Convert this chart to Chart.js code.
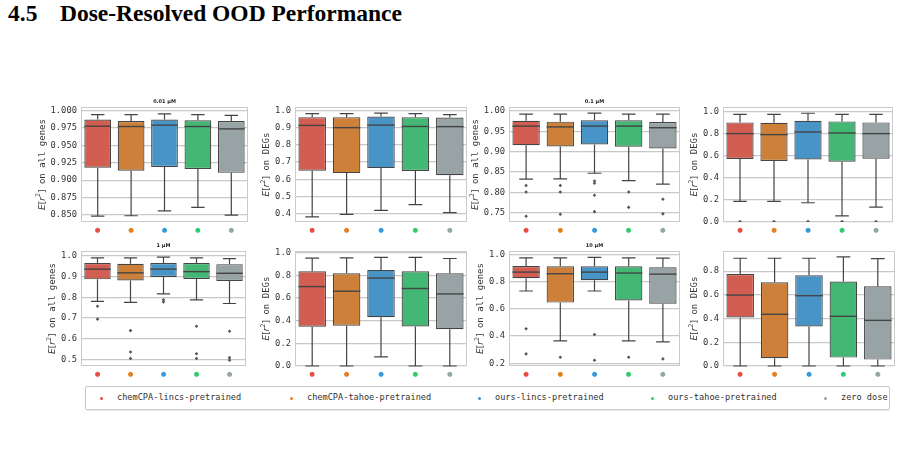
<!DOCTYPE html>
<html>
<head>
<title>Dose-Resolved OOD Performance</title>
<script src="https://cdn.jsdelivr.net/npm/chart.js@4.4.1/dist/chart.umd.min.js"></script>
<style>
  body { margin: 0; background: #fff; }
  #page { position: relative; width: 902px; height: 451px; overflow: hidden; }
  .head { position: absolute; top: 0px; font: bold 23.5px "Liberation Serif", serif; color: #000; white-space: pre; }
  canvas { position: absolute; }
  #legend { position: absolute; left: 85px; top: 386px; width: 803px; height: 22px; border: 1px solid #cbcbcb; border-radius: 2px; box-shadow: 0 1px 1px rgba(0,0,0,0.08); }
  #legend span { position: absolute; top: 5px; font: 8.6px "DejaVu Sans Mono", monospace; color: #333; white-space: pre; }
  #legend i { position: absolute; top: 10px; width: 3px; height: 3px; border-radius: 50%; }
</style>
</head>
<body>
<div id="page">
  <div class="head" style="left: 8px">4.5</div>
  <div class="head" style="left: 60px">Dose-Resolved OOD Performance</div>
  <div id="legend"></div>
</div>
<script>
const models = ['chemCPA-lincs-pretrained', 'chemCPA-tahoe-pretrained', 'ours-lincs-pretrained', 'ours-tahoe-pretrained', 'zero dose'];
const dotColors = ['#e74c3c', '#e67e22', '#3498db', '#2ecc71', '#95a5a6'];
const boxColors = ['#d25d51', '#cd803a', '#4994c6', '#42b874', '#97a3a4'];
const doses = ['0.01 µM', '0.1 µM', '1 µM', '10 µM'];

// each box: [lower whisker, q1, median, q3, upper whisker]
const d001All = [[0.8485, 0.918, 0.9775, 0.987, 0.994], [0.849, 0.9135, 0.977, 0.985, 0.994], [0.856, 0.919, 0.979, 0.987, 0.995], [0.861, 0.916, 0.977, 0.986, 0.994], [0.850, 0.9105, 0.9736, 0.985, 0.993]];
const d001AllOut = [[], [], [], [], []];
const d001Deg = [[0.382, 0.650, 0.913, 0.961, 0.982], [0.396, 0.636, 0.900, 0.961, 0.982], [0.419, 0.665, 0.915, 0.965, 0.984], [0.453, 0.648, 0.907, 0.961, 0.982], [0.407, 0.624, 0.906, 0.959, 0.976]];
const d001DegOut = [[], [], [], [], []];

const d01All = [[0.8325, 0.916, 0.963, 0.976, 0.9925], [0.833, 0.913, 0.961, 0.974, 0.9925], [0.847, 0.918, 0.963, 0.9775, 0.995], [0.829, 0.912, 0.963, 0.9775, 0.9925], [0.820, 0.908, 0.959, 0.973, 0.9925]];
const d01AllOut = [[0.817, 0.801, 0.741], [0.817, 0.801, 0.746], [0.828, 0.8225, 0.793, 0.7525], [0.801, 0.763], [0.783, 0.747]];
const d01Deg = [[0.188, 0.572, 0.803, 0.905, 0.978], [0.188, 0.554, 0.794, 0.902, 0.978], [0.175, 0.569, 0.818, 0.920, 0.988], [0.055, 0.548, 0.809, 0.914, 0.978], [0.135, 0.575, 0.803, 0.905, 0.978]];
const d01DegOut = [[0.004], [0.004], [0.004], [0.004], [0.004]];

const d1All = [[0.780, 0.886, 0.935, 0.964, 0.989], [0.775, 0.881, 0.917, 0.961, 0.989], [0.816, 0.897, 0.935, 0.964, 0.993], [0.787, 0.888, 0.923, 0.964, 0.989], [0.770, 0.878, 0.915, 0.959, 0.985]];
const d1AllOut = [[0.757, 0.695], [0.640, 0.537, 0.506], [0.788, 0.778], [0.661, 0.529, 0.506], [0.637, 0.510, 0.498]];
const d1Deg = [[0.0, 0.346, 0.701, 0.836, 0.952], [0.0, 0.355, 0.660, 0.818, 0.955], [0.08, 0.430, 0.776, 0.848, 0.958], [0.0, 0.349, 0.684, 0.836, 0.958], [0.0, 0.325, 0.636, 0.818, 0.949]];
const d1DegOut = [[], [], [], [], []];

const d10All = [[0.731, 0.825, 0.870, 0.915, 0.975], [0.364, 0.646, 0.858, 0.913, 0.975], [0.731, 0.810, 0.870, 0.913, 0.978], [0.364, 0.661, 0.863, 0.913, 0.975], [0.357, 0.638, 0.855, 0.905, 0.973]];
const d10AllOut = [[0.454, 0.269], [0.244], [0.411, 0.222], [0.244], [0.232]];
const d10Deg = [[0.0, 0.410, 0.598, 0.775, 0.909], [0.0, 0.066, 0.436, 0.707, 0.909], [0.0, 0.333, 0.593, 0.766, 0.909], [0.0, 0.071, 0.419, 0.712, 0.920], [0.0, 0.054, 0.385, 0.672, 0.906]];
const d10DegOut = [[], [], [], [], []];

const ticks001All = [0.850, 0.875, 0.900, 0.925, 0.950, 0.975, 1.000];
const ticks001Deg = [0.4, 0.5, 0.6, 0.7, 0.8, 0.9, 1.0];
const ticks01All = [0.75, 0.80, 0.85, 0.90, 0.95, 1.00];
const ticks01Deg = [0.0, 0.2, 0.4, 0.6, 0.8, 1.0];
const ticks1All = [0.5, 0.6, 0.7, 0.8, 0.9, 1.0];
const ticks1Deg = [0.0, 0.2, 0.4, 0.6, 0.8, 1.0];
const ticks10All = [0.2, 0.4, 0.6, 0.8, 1.0];
const ticks10Deg = [0.0, 0.2, 0.4, 0.6, 0.8];

// plot-area edges
const colL = [81, 295, 509, 723], colR = [248, 467, 682, 895];
const rowT = [107, 251], rowB = [222, 366];

const panels = [
  {stats: d001All, out: d001AllOut, ticks: ticks001All, dec: 3, min: 0.840, max: 1.005, what: 'all genes', title: doses[0], c: 0, r: 0},
  {stats: d001Deg, out: d001DegOut, ticks: ticks001Deg, dec: 1, min: 0.352, max: 1.02, what: 'DEGs', c: 1, r: 0},
  {stats: d01All, out: d01AllOut, ticks: ticks01All, dec: 2, min: 0.727, max: 1.010, what: 'all genes', title: doses[1], c: 2, r: 0},
  {stats: d01Deg, out: d01DegOut, ticks: ticks01Deg, dec: 1, min: 0, max: 1.045, what: 'DEGs', c: 3, r: 0},
  {stats: d1All, out: d1AllOut, ticks: ticks1All, dec: 1, min: 0.470, max: 1.022, what: 'all genes', title: doses[2], c: 0, r: 1},
  {stats: d1Deg, out: d1DegOut, ticks: ticks1Deg, dec: 1, min: 0, max: 1.015, what: 'DEGs', c: 1, r: 1},
  {stats: d10All, out: d10AllOut, ticks: ticks10All, dec: 1, min: 0.180, max: 1.025, what: 'all genes', title: doses[3], c: 2, r: 1},
  {stats: d10Deg, out: d10DegOut, ticks: ticks10Deg, dec: 1, min: 0, max: 0.97, what: 'DEGs', c: 3, r: 1}
];

const LINE = '#444';
const TICKFONT = {family: 'DejaVu Sans Mono', size: 8.8};
const YAXIS_W = 58, XAXIS_H = 16, TOP_PAD = 12;

// whiskers, caps, medians and the spines
const boxPlugin = {
  id: 'boxparts',
  beforeDatasetsDraw(chart) {
    const {ctx, chartArea: a} = chart;
    ctx.save();
    ctx.strokeStyle = '#cbcbcb';
    ctx.lineWidth = 1;
    ctx.strokeRect(a.left + 0.5, a.top + 0.5, a.width - 1, a.height - 1);
    ctx.restore();
  },
  afterDatasetsDraw(chart, args, opts) {
    const {ctx} = chart;
    const y = chart.scales.y;
    const bars = chart.getDatasetMeta(0).data;
    ctx.save();
    ctx.strokeStyle = LINE;
    opts.stats.forEach((s, i) => {
      const b = bars[i];
      const x = b.x, hw = b.width / 2, cw = b.width / 4;
      const [lo, q1, med, q3, hi] = s.map(v => y.getPixelForValue(v));
      ctx.lineWidth = 1.2;
      ctx.beginPath();
      ctx.moveTo(x, q3); ctx.lineTo(x, hi);
      ctx.moveTo(x, q1); ctx.lineTo(x, lo);
      ctx.moveTo(x - cw, hi); ctx.lineTo(x + cw, hi);
      ctx.moveTo(x - cw, lo); ctx.lineTo(x + cw, lo);
      ctx.stroke();
      ctx.lineWidth = 1.4;
      ctx.beginPath();
      ctx.moveTo(x - hw, med); ctx.lineTo(x + hw, med);
      ctx.stroke();
    });
    ctx.restore();
  }
};

// dose title and the E[r^2] axis label
const textPlugin = {
  id: 'texts',
  afterDraw(chart, args, opts) {
    const {ctx, chartArea: a} = chart;
    ctx.save();
    if (opts.title) {
      ctx.font = 'bold 5px "DejaVu Sans"';
      ctx.fillStyle = '#222';
      ctx.textAlign = 'center';
      ctx.textBaseline = 'alphabetic';
      ctx.fillText(opts.title, (a.left + a.right) / 2, a.top - 4);
    }
    ctx.font = TICKFONT.size + 'px "DejaVu Sans Mono"';
    const tickW = Math.max(...chart.scales.y.ticks.map(t => ctx.measureText(t.label).width));
    const cx = a.left - 4 - tickW - 8;
    const fs = 9;
    const parts = [
      ['italic ' + fs + 'px "DejaVu Sans"', 'E', 0],
      [fs + 'px "DejaVu Sans"', '[', 0],
      ['italic ' + fs + 'px "DejaVu Sans"', 'r', 0],
      ['6.3px "DejaVu Sans"', '2', -3.8],
      [fs + 'px "DejaVu Sans"', ']', 0],
      [fs + 'px "DejaVu Sans Mono"', ' on ' + opts.what, 0]
    ];
    let total = 0;
    parts.forEach(p => { ctx.font = p[0]; p.push(ctx.measureText(p[1]).width); total += p[3]; });
    ctx.translate(cx, (a.top + a.bottom) / 2);
    ctx.rotate(-Math.PI / 2);
    ctx.fillStyle = '#333';
    ctx.textAlign = 'left';
    ctx.textBaseline = 'middle';
    let px = -total / 2;
    parts.forEach(p => { ctx.font = p[0]; ctx.fillText(p[1], px, p[2]); px += p[3]; });
    ctx.restore();
  }
};

const page = document.getElementById('page');

panels.forEach(p => {
  const L = colL[p.c], R = colR[p.c], T = rowT[p.r], B = rowB[p.r];
  const cv = document.createElement('canvas');
  cv.width = R - L + YAXIS_W + 2;
  cv.height = B - T + TOP_PAD + XAXIS_H;
  cv.style.left = (L - YAXIS_W) + 'px';
  cv.style.top = (T - TOP_PAD) + 'px';
  page.appendChild(cv);

  const outliers = p.out.flatMap((arr, i) => arr.map(v => ({x: models[i], y: v})));

  new Chart(cv.getContext('2d'), {
    type: 'bar',
    data: {
      labels: models,
      datasets: [{
        type: 'bar',
        data: p.stats.map(s => [s[1], s[3]]),
        backgroundColor: boxColors,
        borderColor: LINE,
        borderWidth: 1.2,
        borderSkipped: false,
        barPercentage: 0.8,
        categoryPercentage: 1.0
      }, {
        type: 'line',
        data: outliers,
        showLine: false,
        pointStyle: 'rectRot',
        pointRadius: 1.8,
        pointBackgroundColor: '#555',
        pointBorderWidth: 0
      }]
    },
    options: {
      responsive: false,
      animation: false,
      events: [],
      layout: {padding: {top: TOP_PAD, right: 2, left: 0, bottom: 0}},
      plugins: {
        legend: {display: false},
        tooltip: {enabled: false},
        boxparts: {stats: p.stats},
        texts: {title: p.title, what: p.what}
      },
      scales: {
        x: {
          grid: {display: false, drawTicks: false},
          border: {display: false},
          afterFit: s => { s.height = XAXIS_H; },
          ticks: {
            callback: () => '●',
            color: dotColors,
            font: {family: 'DejaVu Sans', size: 6.5},
            padding: 4,
            maxRotation: 0,
            autoSkip: false
          }
        },
        y: {
          min: p.min,
          max: p.max,
          grid: {color: '#c8c8c8', lineWidth: 1.3, drawTicks: false},
          border: {display: false},
          afterFit: s => { s.width = YAXIS_W; },
          afterBuildTicks: s => { s.ticks = p.ticks.map(v => ({value: v})); },
          ticks: {
            callback: v => v.toFixed(p.dec),
            color: '#333',
            font: TICKFONT,
            padding: 4
          }
        }
      }
    },
    plugins: [boxPlugin, textPlugin]
  });
});

// shared legend
const legend = document.getElementById('legend');
const markX = [14, 204, 392, 565, 738];
models.forEach((m, i) => {
  const dot = document.createElement('i');
  dot.style.left = markX[i] + 'px';
  dot.style.background = dotColors[i];
  legend.appendChild(dot);
  const t = document.createElement('span');
  t.style.left = (markX[i] + 17) + 'px';
  t.textContent = m;
  legend.appendChild(t);
});
</script>
</body>
</html>
